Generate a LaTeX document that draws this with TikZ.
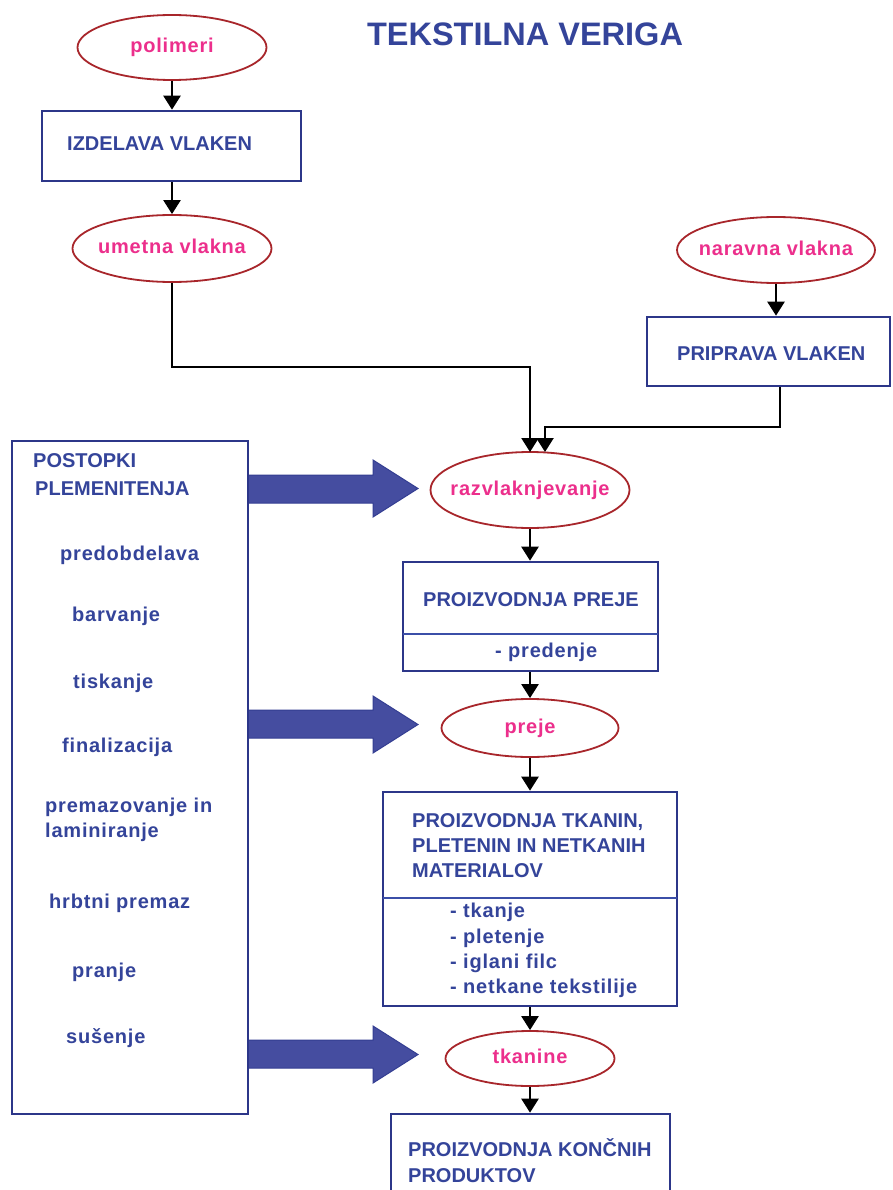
\documentclass[tikz,border=0pt]{standalone}
\usepackage{fontspec}
\setmainfont{Liberation Sans}
\newfontfamily\lsfont{Liberation Sans}[LetterSpace=4]
\usetikzlibrary{shapes.geometric,arrows.meta}
\definecolor{txtblue}{HTML}{34449A}
\definecolor{boxblue}{HTML}{2C3689}
\definecolor{arrfill}{HTML}{454DA0}
\definecolor{arredge}{HTML}{343E92}
\definecolor{pinktxt}{HTML}{EC2F8C}
\definecolor{ellred}{HTML}{A8262B}
\definecolor{divblue}{HTML}{3B4FA8}
\tikzset{
  ell/.style={ellipse, draw=ellred, line width=1.8pt, inner sep=0pt},
  elltext/.style={inner sep=0pt, text=pinktxt,
    font=\lsfont\fontsize{20}{24}\selectfont\bfseries, text height=10.5pt, text depth=0pt},
  boxnode/.style={rectangle, draw=boxblue, line width=2.6pt, inner sep=0pt},
  lab/.style={anchor=base west, inner sep=0pt, text=txtblue, font=\fontsize{20}{24}\selectfont\bfseries},
  lablc/.style={lab, font=\lsfont\fontsize{20}{24}\selectfont\bfseries},
  conn/.style={draw=black, line width=2.4pt, -{Triangle[length=14pt,width=17pt]}},
  blockarrow/.style={fill=arrfill, draw=arredge, line width=1pt, line join=miter},
  divider/.style={draw=divblue, line width=1.3pt}
}
\begin{document}
\begin{tikzpicture}[x=1pt,y=-1pt]
\useasboundingbox (0,0) rectangle (893,1190);
\fill[white] (0,0) rectangle (893,1190);

% title
\node[anchor=base, inner sep=0pt, text=txtblue, font=\fontsize{32.5}{36}\selectfont\bfseries] (title) at (525,46) {TEKSTILNA VERIGA};

% block arrows (drawn first)
\path[blockarrow] (248,475) -- (373,475) -- (373,460) -- (418,488.5) -- (373,517) -- (373,503) -- (248,503) -- cycle;
\path[blockarrow] (248,710) -- (373,710) -- (373,696) -- (418,724.5) -- (373,753) -- (373,738) -- (248,738) -- cycle;
\path[blockarrow] (248,1040) -- (373,1040) -- (373,1026) -- (418,1054.5) -- (373,1083) -- (373,1068) -- (248,1068) -- cycle;

% ellipses
\node[ell, minimum width=189pt, minimum height=65pt] (polimeri) at (172,47.5) {};
\node[ell, minimum width=199pt, minimum height=67pt] (umetna) at (172,248.5) {};
\node[ell, minimum width=198pt, minimum height=66pt] (naravna) at (776,250) {};
\node[ell, minimum width=199pt, minimum height=76pt] (razv) at (530,490) {};
\node[ell, minimum width=177pt, minimum height=58pt] (preje) at (530,728) {};
\node[ell, minimum width=169pt, minimum height=55pt] (tkanine) at (530,1058.5) {};
\node[elltext] (l-polimeri) at (polimeri.center) {polimeri};
\node[elltext] (l-umetna) at (umetna.center) {umetna vlakna};
\node[elltext] (l-naravna) at (naravna.center) {naravna vlakna};
\node[elltext] (l-razv) at (razv.center) {razvlaknjevanje};
\node[elltext] (l-preje) at (preje.center) {preje};
\node[elltext] (l-tkanine) at (tkanine.center) {tkanine};

% boxes
\node[boxnode, minimum width=259pt, minimum height=70pt] (izd) at (171.5,146) {};
\node[boxnode, minimum width=243pt, minimum height=69pt] (pripr) at (768.5,351.5) {};
\node[boxnode, minimum width=236pt, minimum height=673pt] (plem) at (130,777.5) {};
\node[boxnode, minimum width=255pt, minimum height=109pt] (pbox) at (530.5,616.5) {};
\node[boxnode, minimum width=294pt, minimum height=214pt] (tbox) at (530,899) {};
\node[boxnode, minimum width=279pt, minimum height=100pt] (kbox) at (530.5,1164) {};

% dividers
\coordinate (d1) at (0,634);
\coordinate (d2) at (0,898);
\draw[divider] ([xshift=1.3pt]pbox.west |- d1) -- ([xshift=-1.3pt]pbox.east |- d1);
\draw[divider] ([xshift=1.3pt]tbox.west |- d2) -- ([xshift=-1.3pt]tbox.east |- d2);

% box texts
\node[lab] (t-izd) at (67,151) {IZDELAVA VLAKEN};
\node[lab] (t-pripr) at (677,360) {PRIPRAVA VLAKEN};
\node[lab] (t-post1) at (33,467) {POSTOPKI};
\node[lab] (t-post2) at (35,495) {PLEMENITENJA};
\node[lablc] (t-pred) at (60,560) {predobdelava};
\node[lablc] (t-barv) at (72,621) {barvanje};
\node[lablc] (t-tisk) at (73,688) {tiskanje};
\node[lablc] (t-fin) at (62,752) {finalizacija};
\node[lablc] (t-prem1) at (45,812) {premazovanje in};
\node[lablc] (t-prem2) at (45,837) {laminiranje};
\node[lablc] (t-hrb) at (49,908) {hrbtni premaz};
\node[lablc] (t-pran) at (72,977) {pranje};
\node[lablc] (t-sus) at (66,1043) {sušenje};
\node[lab] (t-pp) at (423,606) {PROIZVODNJA PREJE};
\node[lablc] (t-pred2) at (495,657) {- predenje};
\node[lab] (t-pt1) at (412,827) {PROIZVODNJA TKANIN,};
\node[lab] (t-pt2) at (412,852) {PLETENIN IN NETKANIH};
\node[lab] (t-pt3) at (412,877) {MATERIALOV};
\node[lablc] (t-tk1) at (450,917) {- tkanje};
\node[lablc] (t-tk2) at (450,943) {- pletenje};
\node[lablc] (t-tk3) at (450,968) {- iglani filc};
\node[lablc] (t-tk4) at (450,993) {- netkane tekstilije};
\node[lab] (t-k1) at (408,1156) {PROIZVODNJA KONČNIH};
\node[lab] (t-k2) at (408,1182) {PRODUKTOV};

% connectors
\draw[conn] (polimeri.south) -- (izd.north -| polimeri.south);
\draw[conn] (izd.south -| umetna.north) -- (umetna.north);
\draw[conn] (naravna.south) -- (naravna.south |- pripr.north);
\coordinate (c1) at (530,367);
\coordinate (t1) at (530,452);
\draw[conn] (umetna.south) |- (c1) -- (t1);
\coordinate (p1) at (780,386);
\coordinate (c2) at (545,427);
\coordinate (t2) at (545,452);
\draw[conn] (pripr.south -| p1) |- (c2) -- (t2);
\draw[conn] (razv.south) -- (razv.south |- pbox.north);
\draw[conn] (pbox.south -| preje.north) -- (preje.north);
\draw[conn] (preje.south) -- (preje.south |- tbox.north);
\draw[conn] (tbox.south -| tkanine.north) -- (tkanine.north);
\draw[conn] (tkanine.south) -- (tkanine.south |- kbox.north);
\end{tikzpicture}
\end{document}
